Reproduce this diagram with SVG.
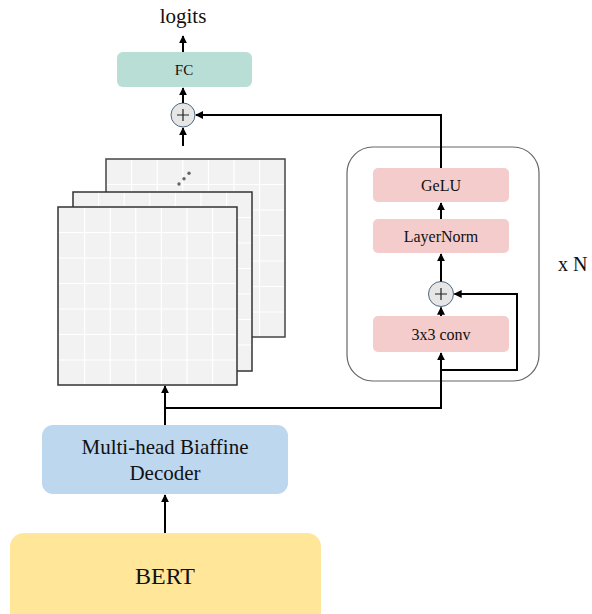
<svg xmlns="http://www.w3.org/2000/svg" width="592" height="614" viewBox="0 0 592 614">
<defs>
<style>
text{font-family:"Liberation Serif","Times New Roman",serif;fill:#111}
.c{stroke:#000;stroke-width:2;fill:none}
.gl{stroke:#fff;stroke-width:1.2;fill:none}
.pl{fill:#f4cccc}
.sum{fill:#e7e6e6;stroke:#4d6580;stroke-width:1}
</style>
<marker id="a" viewBox="0 0 10 10" refX="9" refY="5" markerWidth="4" markerHeight="4" orient="auto" markerUnits="strokeWidth">
<path d="M0,0 L10,5 L0,10 Z" fill="#000"/>
</marker>
</defs>

<g id="grid-back">
<rect x="106" y="159" width="179" height="178" fill="#f2f2f2"/>
<path class="gl" d="M131.6,159V337M157.2,159V337M182.8,159V337M208.4,159V337M234,159V337M259.6,159V337M106,184.5H285M106,210H285M106,235.5H285M106,261H285M106,286.5H285M106,312H285"/>
<rect x="106" y="159" width="179" height="178" fill="none" stroke="#444" stroke-width="1.5"/>
<circle cx="179" cy="184" r="1.7" fill="#666"/>
<circle cx="184" cy="178.7" r="1.7" fill="#666"/>
<circle cx="189" cy="173.3" r="1.7" fill="#666"/>
</g>
<g id="grid-middle">
<rect x="73" y="192" width="179" height="179" fill="#f2f2f2"/>
<path class="gl" d="M98.6,192V371M124.2,192V371M149.8,192V371M175.4,192V371M201,192V371M226.6,192V371M73,217.5H252M73,243H252M73,268.5H252M73,294H252M73,319.5H252M73,345H252"/>
<rect x="73" y="192" width="179" height="179" fill="none" stroke="#333" stroke-width="1.5"/>
</g>
<g id="grid-front">
<rect x="58" y="207" width="179" height="178" fill="#f2f2f2"/>
<path class="gl" d="M84.6,207V385M110.2,207V385M135.8,207V385M161.4,207V385M187,207V385M212.6,207V385M58,232.5H237M58,258H237M58,283.5H237M58,309H237M58,334.5H237M58,360H237"/>
<rect x="58" y="207" width="179" height="178" fill="none" stroke="#333" stroke-width="1.5"/>
</g>

<g id="module">
<rect x="347" y="147" width="192" height="234" rx="26" fill="#fff" stroke="#666" stroke-width="1.2"/>
</g>

<g id="logits"><text x="183" y="23" font-size="21" text-anchor="middle">logits</text></g>
<g id="fc">
<rect x="117" y="52" width="135" height="35" rx="6" fill="#b9ded5"/>
<text x="184" y="75" font-size="15" text-anchor="middle">FC</text>
</g>
<g id="sum-top">
<circle cx="183" cy="115" r="12" class="sum"/>
<path d="M177,115H189M183,109V121" stroke="#222" stroke-width="1.2"/>
</g>
<g id="gelu">
<rect x="373" y="168" width="136" height="34" rx="5" class="pl"/>
<text x="441" y="190.5" font-size="16" text-anchor="middle">GeLU</text>
</g>
<g id="layernorm">
<rect x="373" y="219" width="136" height="34" rx="5" class="pl"/>
<text x="441" y="241.5" font-size="16" text-anchor="middle">LayerNorm</text>
</g>
<g id="sum-inner">
<circle cx="441" cy="294" r="12.5" class="sum"/>
<path d="M435,294H447M441,288V300" stroke="#222" stroke-width="1.2"/>
</g>
<g id="conv">
<rect x="373" y="316" width="136" height="36" rx="5" class="pl"/>
<text x="441" y="339.5" font-size="16" text-anchor="middle">3x3 conv</text>
</g>
<g id="xn"><text x="558" y="271" font-size="20">x N</text></g>

<g id="decoder">
<rect x="42" y="425" width="246" height="69" rx="11" fill="#bdd7ee"/>
<text x="165" y="454" font-size="21" text-anchor="middle">Multi-head Biaffine</text>
<text x="165" y="480" font-size="21" text-anchor="middle">Decoder</text>
</g>
<g id="bert">
<rect x="10" y="533" width="311" height="100" rx="14" fill="#ffe699"/>
<text x="165" y="584" font-size="24" text-anchor="middle">BERT</text>
</g>

<g id="connectors">
<path class="c" d="M183,52 V36" marker-end="url(#a)"/>
<path class="c" d="M183,103 V88" marker-end="url(#a)"/>
<path class="c" d="M183,146 V128" marker-end="url(#a)"/>
<path class="c" d="M441,168 V115 H196" marker-end="url(#a)"/>
<path class="c" d="M441,219 V203" marker-end="url(#a)"/>
<path class="c" d="M441,281.5 V254" marker-end="url(#a)"/>
<path class="c" d="M441,316 V307.5" marker-end="url(#a)"/>
<path class="c" d="M441,370 H517 V294 H454.5" marker-end="url(#a)"/>
<path class="c" d="M165,408 H441 V353" marker-end="url(#a)"/>
<path class="c" d="M165,425 V386" marker-end="url(#a)"/>
<path class="c" d="M165,533 V495" marker-end="url(#a)"/>
</g>
</svg>
